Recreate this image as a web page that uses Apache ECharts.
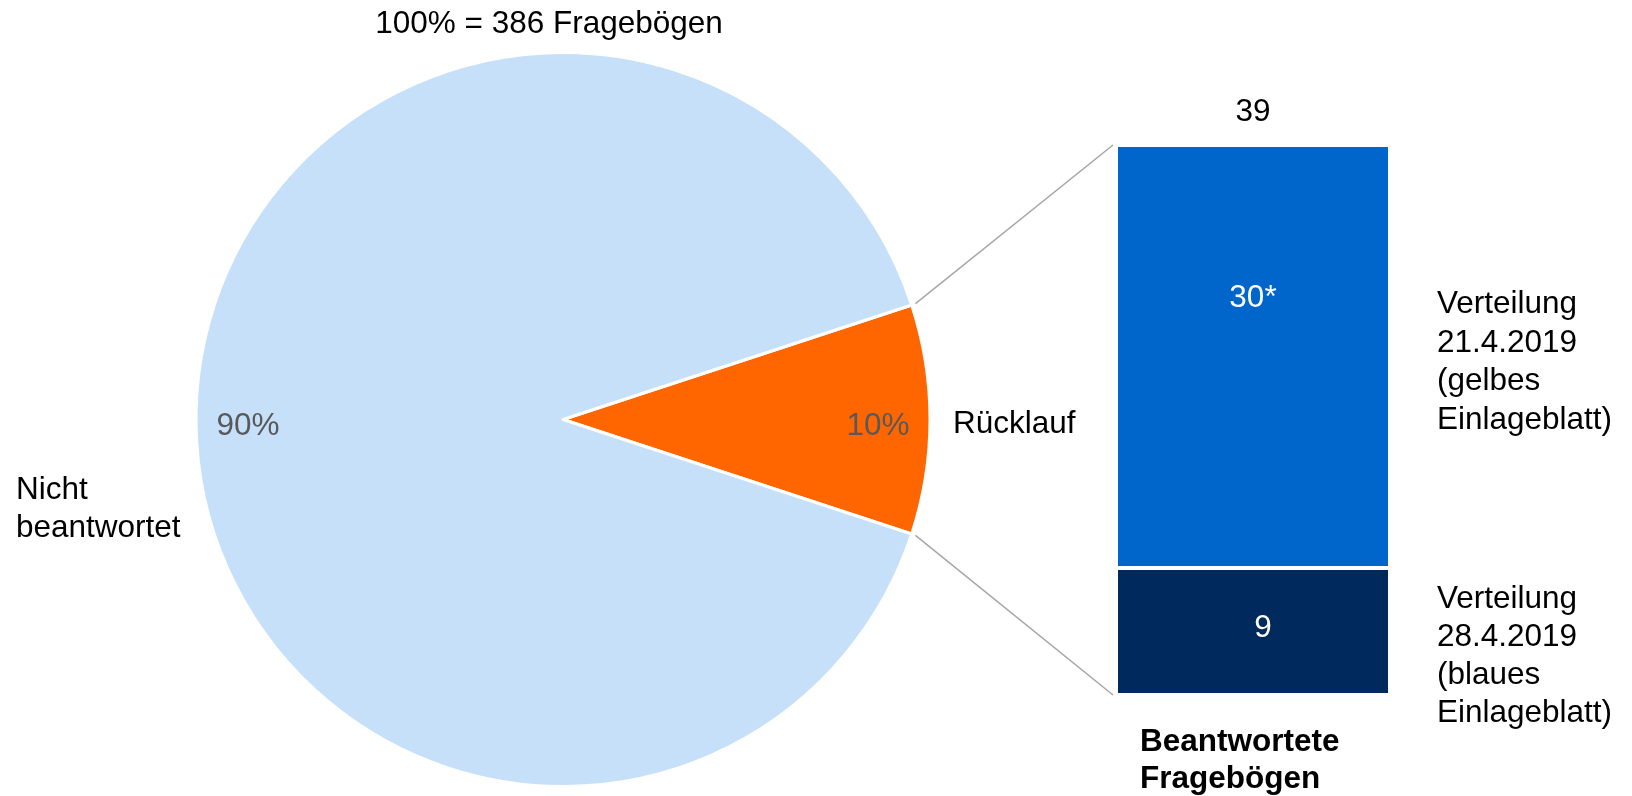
<!DOCTYPE html>
<html>
<head>
<meta charset="utf-8">
<script src="https://cdn.jsdelivr.net/npm/echarts@6/dist/echarts.min.js"></script>
<style>
html,body{margin:0;padding:0;background:#fff;}
#chart{width:1632px;height:796px;}
</style>
</head>
<body>
<div id="chart"></div>
<script>
// ---- data ----
const pieCategories = ['Rücklauf', 'Nicht\nbeantwortet'];
const pieValues = [39, 347];
const barCategories = ['Verteilung\n28.4.2019\n(blaues\nEinlageblatt)', 'Verteilung\n21.4.2019\n(gelbes\nEinlageblatt)'];
const barValues = [9, 30];
const barValueLabels = ['9', '30*'];
const barAxisTitle = 'Beantwortete\nFragebögen';
const totalUnit = 'Fragebögen';

// ---- layout / style ----
const FONT = '"Liberation Sans", Arial, sans-serif';
const FS = 31.5;
const CX = 563, CY = 419.5, R = 367;
const GRID_LEFT = 1116, GRID_RIGHT = 1632 - 1390, GRID_TOP = 145, GRID_BOTTOM = 796 - 695;
const pieColors = ['#FF6600', '#C6E0FA'];
const barColors = ['#00295E', '#0066CC'];

const pieTotal = pieValues.reduce((a, b) => a + b, 0);
const barTotal = barValues.reduce((a, b) => a + b, 0);
const sliceAngle = pieValues[0] / pieTotal * 360;
const half = sliceAngle / 2 * Math.PI / 180;

const chart = echarts.init(document.getElementById('chart'), null, {renderer: 'canvas'});

const pieData = pieValues.map((v, i) => ({name: pieCategories[i], value: v, itemStyle: {color: pieColors[i]}}));

const barSeries = barValues.map((v, i) => ({
  type: 'bar',
  stack: 'total',
  barWidth: '100%',
  data: [v],
  itemStyle: {color: barColors[i], borderColor: '#ffffff', borderWidth: 2},
  label: i === 1 ? {
    show: true, position: ['50%', 153], align: 'center', verticalAlign: 'middle',
    color: '#ffffff', fontSize: FS, fontFamily: FONT, formatter: barValueLabels[i]
  } : {
    show: true, position: 'inside', offset: [10, -3],
    color: '#ffffff', fontSize: FS, fontFamily: FONT, formatter: barValueLabels[i]
  },
  silent: true
}));
barSeries.push({
  type: 'bar', stack: 'total', barWidth: '100%', data: [0],
  itemStyle: {color: 'rgba(0,0,0,0)', borderWidth: 0},
  label: {show: true, position: 'top', distance: 17, color: '#000', fontSize: FS, fontFamily: FONT,
          formatter: () => String(barTotal)},
  silent: true
});

const ux = Math.cos(half), uy = Math.sin(half);
const lineStart = R + 4;
const txt = (x, y, text, lh, bold) => ({
  type: 'text', x: x, y: y,
  style: {text: text, font: (bold ? 'bold ' : '') + FS + 'px ' + FONT, lineHeight: lh, fill: '#000',
          textAlign: 'left', textVerticalAlign: 'middle'}
});
const graphics = [
  {type: 'line', shape: {x1: CX + lineStart * ux, y1: CY - lineStart * uy, x2: GRID_LEFT - 3, y2: GRID_TOP}, style: {stroke: '#A6A6A6', lineWidth: 1.5}},
  {type: 'line', shape: {x1: CX + lineStart * ux, y1: CY + lineStart * uy, x2: GRID_LEFT - 3, y2: 796 - GRID_BOTTOM}, style: {stroke: '#A6A6A6', lineWidth: 1.5}},
  {type: 'text', x: 549, y: 24, style: {text: '100% = ' + pieTotal + ' ' + totalUnit, font: FS + 'px ' + FONT, fill: '#000', textAlign: 'center', textVerticalAlign: 'middle'}},
  txt(953, 424, pieCategories[0], 38),
  txt(16, 509, pieCategories[1], 38),
  txt(1437, 362.5, barCategories[1], 38.5),
  txt(1437, 656, barCategories[0], 38),
  txt(1140, 761, barAxisTitle, 36.5, true)
];

const option = {
  animation: false,
  backgroundColor: '#ffffff',
  grid: {left: GRID_LEFT, right: GRID_RIGHT, top: GRID_TOP, bottom: GRID_BOTTOM},
  xAxis: {type: 'category', data: ['x'], show: false},
  yAxis: {type: 'value', min: 0, max: barTotal, show: false},
  series: [
    {
      type: 'pie', center: [CX, CY], radius: [0, R], startAngle: sliceAngle / 2, clockwise: true,
      data: pieData, label: {show: false}, labelLine: {show: false},
      itemStyle: {borderColor: '#ffffff', borderWidth: 3}, silent: true
    },
    {
      // transparent label carrier, shifted slightly down so the percentages sit as in the reference
      type: 'pie', center: [CX, CY + 7], radius: [R * 0.70, R], startAngle: sliceAngle / 2, clockwise: true,
      data: pieValues.map((v, i) => ({name: pieCategories[i], value: v})),
      itemStyle: {color: 'rgba(0,0,0,0)', borderWidth: 0},
      label: {show: true, position: 'inside', color: '#595959', fontSize: FS, fontFamily: FONT,
              formatter: p => Math.round(p.percent) + '%'},
      labelLine: {show: false}, silent: true
    },
    ...barSeries
  ],
  graphic: graphics
};
chart.setOption(option);
</script>
</body>
</html>
